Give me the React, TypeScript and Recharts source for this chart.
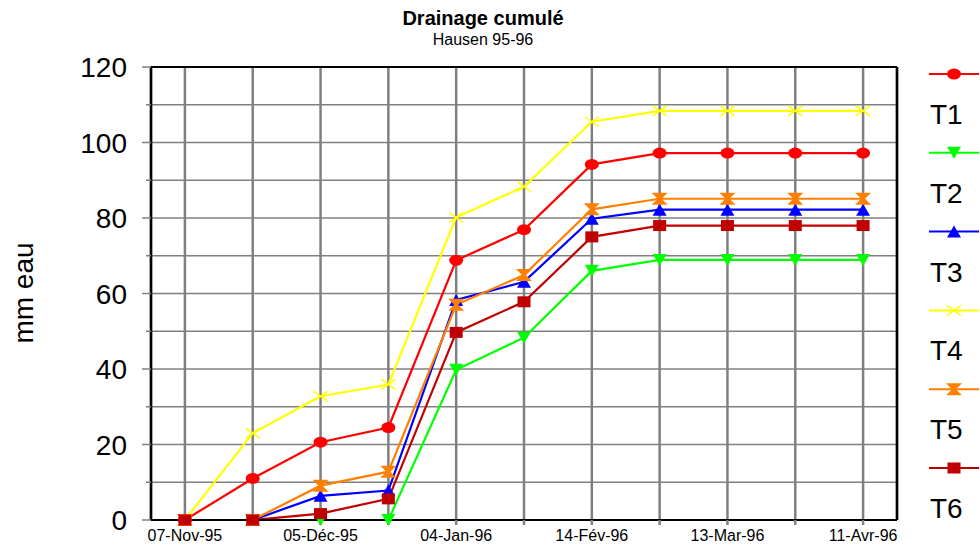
import React from 'react';
import { LineChart, Line, XAxis, YAxis, CartesianGrid, ReferenceLine } from 'recharts';

const dates = ['07-Nov-95', '', '05-Déc-95', '', '04-Jan-96', '', '14-Fév-96', '', '13-Mar-96', '', '11-Avr-96'];
const T1 = [0, 11, 20.6, 24.5, 68.8, 76.9, 94.2, 97.2, 97.2, 97.2, 97.2];
const T2 = [0, 0, 0, 0, 39.8, 48.3, 66, 68.9, 68.9, 68.9, 68.9];
const T3 = [0, 0, 6.4, 7.8, 58.3, 63.1, 79.8, 82.2, 82.2, 82.2, 82.2];
const T4 = [0, 23, 32.8, 35.9, 80.2, 88.3, 105.5, 108.4, 108.4, 108.4, 108.4];
const T5 = [0, 0, 9.1, 12.8, 57, 64.9, 82.3, 85.1, 85.1, 85.1, 85.1];
const T6 = [0, 0, 1.7, 5.6, 49.7, 57.8, 75, 78, 78, 78, 78];
const yTicks = [0, 10, 20, 30, 40, 50, 60, 70, 80, 90, 100, 110, 120];

const series = [
  { key: 'T1', values: T1, color: '#FF0000', marker: 'circle' },
  { key: 'T2', values: T2, color: '#00FF00', marker: 'down' },
  { key: 'T3', values: T3, color: '#0000FF', marker: 'up' },
  { key: 'T4', values: T4, color: '#FFFF00', marker: 'x' },
  { key: 'T5', values: T5, color: '#FF8000', marker: 'star' },
  { key: 'T6', values: T6, color: '#C00000', marker: 'square' },
];

const data = dates.map((d, i) => {
  const row: any = { idx: i, date: d };
  series.forEach((s) => (row[s.key] = s.values[i]));
  return row;
});

const FONT = '"Liberation Sans", Arial, sans-serif';

function marker(type: string, color: string, cx: number, cy: number, key?: any) {
  switch (type) {
    case 'circle':
      return <ellipse key={key} cx={cx} cy={cy} rx={7} ry={5.5} fill={color} />;
    case 'down':
      return <polygon key={key} points={`${cx - 7},${cy - 6} ${cx + 7},${cy - 6} ${cx},${cy + 6}`} fill={color} />;
    case 'up':
      return <polygon key={key} points={`${cx - 7},${cy + 6} ${cx + 7},${cy + 6} ${cx},${cy - 6}`} fill={color} />;
    case 'x':
      return (
        <g key={key} stroke={color} strokeWidth={1.5}>
          <line x1={cx - 7} y1={cy - 5} x2={cx + 7} y2={cy + 5} />
          <line x1={cx - 7} y1={cy + 5} x2={cx + 7} y2={cy - 5} />
        </g>
      );
    case 'star':
      return (
        <polygon
          key={key}
          points={`${cx - 8},${cy - 6} ${cx + 8},${cy - 6} ${cx + 2},${cy} ${cx + 8},${cy + 6} ${cx - 8},${cy + 6} ${cx - 2},${cy}`}
          fill={color}
        />
      );
    default:
      return <rect key={key} x={cx - 6.5} y={cy - 5.5} width={13} height={11} fill={color} />;
  }
}

const YTick = (props: any) => {
  const { x, y, payload } = props;
  const major = payload.value % 20 === 0;
  return (
    <g>
      <line x1={x - (major ? 9 : 5)} y1={y} x2={x} y2={y} stroke="#808080" strokeWidth={1.5} />
      {major && (
        <text x={x - 24} y={y} dy="0.36em" textAnchor="end" fontSize={28} fontFamily={FONT} fill="#000">
          {payload.value}
        </text>
      )}
    </g>
  );
};

function SideLegend() {
  return (
    <svg width={55} height={480} style={{ position: 'absolute', left: 925, top: 55 }}>
      {series.map((s, i) => {
        const y = 19 + i * 78.8;
        return (
          <g key={s.key}>
            <line x1={4} y1={y} x2={54} y2={y} stroke={s.color} strokeWidth={2} />
            {marker(s.marker, s.color, 29, y)}
            <text x={5} y={y + 40} dy="0.36em" fontSize={28} fontFamily={FONT} fill="#000">
              {s.key}
            </text>
          </g>
        );
      })}
    </svg>
  );
}

export default function App() {
  return (
    <div style={{ position: 'absolute', left: 0, top: 0, width: 980, height: 547, background: '#fff', fontFamily: FONT }}>
      <LineChart width={980} height={547} data={data} margin={{ top: 67, right: 83, bottom: 0, left: 0 }}>
        <CartesianGrid horizontal={false} stroke="#808080" strokeWidth={2.5} />
        <CartesianGrid vertical={false} stroke="#808080" strokeWidth={1.5} />
        <XAxis
          dataKey="idx"
          type="number"
          domain={[-0.5, 10.5]}
          ticks={data.map((d) => d.idx)}
          tickFormatter={(v: number) => dates[v] ?? ''}
          height={27}
          axisLine={{ stroke: '#000', strokeWidth: 2 }}
          tickLine={{ stroke: '#808080', strokeWidth: 2.5 }}
          tickSize={5}
          tickMargin={5}
          tick={{ fontSize: 16, fill: '#000', fontFamily: FONT }}
          interval={0}
        />
        <YAxis
          type="number"
          domain={[0, 120]}
          ticks={yTicks}
          width={151}
          axisLine={{ stroke: '#000', strokeWidth: 2.5 }}
          tickLine={false}
          tickSize={0}
          tickMargin={0}
          tick={<YTick />}
          interval={0}
        />
        <ReferenceLine y={120} stroke="#000" strokeWidth={2} />
        <ReferenceLine x={10.5} stroke="#000" strokeWidth={2.5} />
        {series.map((s) => (
          <Line
            key={s.key}
            dataKey={s.key}
            stroke={s.color}
            strokeWidth={2.2}
            isAnimationActive={false}
            dot={(p: any) => marker(s.marker, s.color, p.cx, p.cy, p.index)}
            activeDot={false}
          />
        ))}
      </LineChart>
      <SideLegend />
      <div style={{ position: 'absolute', left: 0, width: 966, top: 6, textAlign: 'center', fontWeight: 'bold', fontSize: 20, lineHeight: '24px' }}>
        Drainage cumulé
      </div>
      <div style={{ position: 'absolute', left: 0, width: 966, top: 30, textAlign: 'center', fontSize: 16, lineHeight: '20px' }}>
        Hausen 95-96
      </div>
      <div
        style={{
          position: 'absolute',
          left: 24,
          top: 293,
          transform: 'translate(-50%, -50%) rotate(-90deg)',
          fontSize: 28,
          whiteSpace: 'nowrap',
        }}
      >
        mm eau
      </div>
    </div>
  );
}
